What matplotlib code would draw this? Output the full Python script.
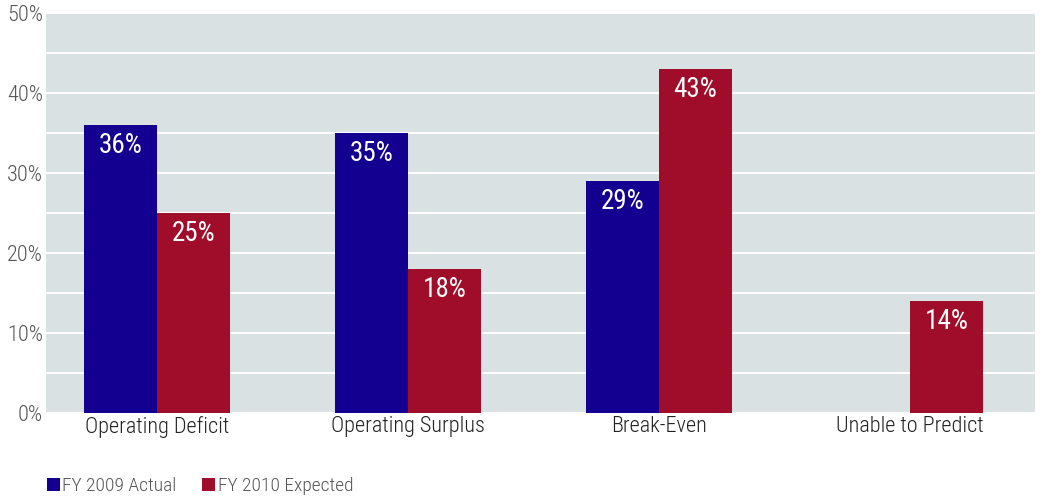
import matplotlib
matplotlib.use("Agg")
import matplotlib.pyplot as plt
from matplotlib.patches import Patch
import numpy as np

categories = ["Operating Deficit", "Operating Surplus", "Break-Even", "Unable to Predict"]
fy2009 = [36, 35, 29, None]
fy2010 = [25, 18, 43, 14]
series_names = ["FY 2009 Actual", "FY 2010 Expected"]
yticks = [0, 10, 20, 30, 40, 50]

BLUE = "#140090"
RED = "#a00d2a"
BG = "#dae1e3"

plt.rcParams["font.family"] = ["Roboto Condensed", "DejaVu Sans"]
plt.rcParams["font.weight"] = "light"

fig = plt.figure(figsize=(10.42, 4.98), dpi=100)
ax = fig.add_axes([46 / 1042, 85 / 498, 989 / 1042, 400 / 498])
ax.set_facecolor(BG)

x = np.arange(len(categories))
w = 0.29

for vals, offset, color in [(fy2009, -w / 2, BLUE), (fy2010, w / 2, RED)]:
    for xi, v in zip(x, vals):
        if v is None:
            continue
        ax.bar(xi + offset, v, width=w, color=color, zorder=3)
        ax.text(xi + offset, v - 2.6, f"{v}%", ha="center", va="center",
                color="white", fontsize=19.5, fontweight="normal", zorder=4)

ax.set_xlim(-0.442, 3.498)
ax.set_ylim(0, 50)
ax.set_yticks(yticks)
ax.set_yticklabels([f"{t}%" for t in yticks], fontsize=16, color="#555555")
ax.set_yticks(np.arange(5, 50, 10), minor=True)
ax.grid(axis="y", which="both", color="white", linewidth=1.5, zorder=1)
ax.set_xticks(x)
ax.set_xticklabels(categories, fontsize=16, color="#222222")
ax.tick_params(axis="both", which="both", length=0)
ax.tick_params(axis="y", pad=2)
ax.tick_params(axis="x", pad=2)
for s in ax.spines.values():
    s.set_visible(False)

handles = [Patch(facecolor=BLUE), Patch(facecolor=RED)]
fig.legend(handles, series_names, loc="lower left", bbox_to_anchor=(44 / 1042, 0.0),
           ncol=2, frameon=False, fontsize=14, handlelength=0.65, handleheight=0.65,
           handletextpad=0.15, columnspacing=1.3, borderpad=0.15, borderaxespad=0,
           labelcolor="#555555")

fig.savefig("out.png", dpi=100, facecolor="white")
